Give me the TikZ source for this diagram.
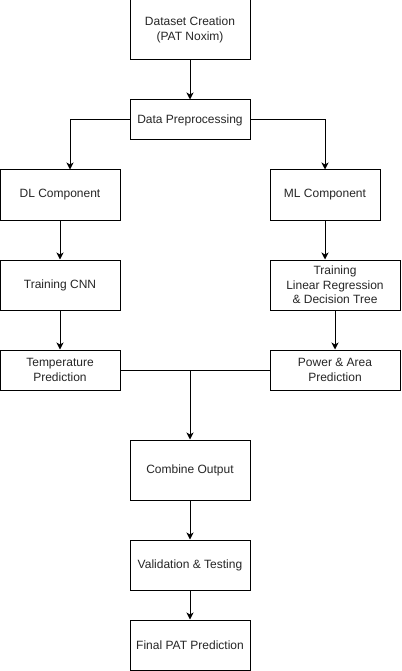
\documentclass[tikz,border=0pt]{standalone}
\usepackage{fontspec}
\setmainfont{Liberation Sans}
\usetikzlibrary{arrows.meta}
\begin{document}
\begin{tikzpicture}[x=1pt,y=-1pt,
  box/.style={draw=black,line width=1pt,fill=white,align=center,inner sep=2pt,
    font=\fontsize{12}{14.4}\selectfont,text=black!85},
  arr/.style={draw=black,line width=1pt,-{Stealth[length=7pt,width=7pt,inset=2pt]}},
  ln/.style={draw=black,line width=1pt}]
\useasboundingbox (0,0) rectangle (401,671);
\node[box,minimum width=120pt,minimum height=60pt] (ds) at (190,30) {Dataset Creation\\(PAT Noxim)};
\node[box,minimum width=120pt,minimum height=40pt] (pre) at (190,120) {Data Preprocessing};
\node[box,minimum width=120pt,minimum height=50pt] (dl) at (60,195) {DL Component};
\node[box,minimum width=110pt,minimum height=50pt] (ml) at (325,195) {ML Component};
\node[box,minimum width=120pt,minimum height=50pt] (cnn) at (60,285) {Training CNN};
\node[box,minimum width=130pt,minimum height=50pt] (lr) at (335,285) {Training\\Linear Regression\\\& Decision Tree};
\node[box,minimum width=120pt,minimum height=40pt] (temp) at (60,370) {Temperature\\Prediction};
\node[box,minimum width=130pt,minimum height=40pt] (pow) at (335,370) {Power \& Area\\Prediction};
\node[box,minimum width=120pt,minimum height=60pt] (comb) at (190,470) {Combine Output};
\node[box,minimum width=120pt,minimum height=50pt] (val) at (190,565) {Validation \& Testing};
\node[box,minimum width=120pt,minimum height=50pt] (fin) at (190,645) {Final PAT Prediction};
\coordinate (dlin) at ([xshift=10pt]dl.north);
\coordinate (j) at (190,370);
\draw[arr] (ds.south) -- (pre.north);
\draw[arr] (pre.west) -| (dlin);
\draw[arr] (pre.east) -| (ml.north);
\draw[arr] (dl.south) -- (cnn.north);
\draw[arr] (ml.south) -- (ml.south |- lr.north);
\draw[arr] (cnn.south) -- (temp.north);
\draw[arr] (lr.south) -- (pow.north);
\draw[ln] (temp.east) -- (pow.west);
\draw[arr] (j) -- (comb.north);
\draw[arr] (comb.south) -- (val.north);
\draw[arr] (val.south) -- (fin.north);
\end{tikzpicture}
\end{document}
